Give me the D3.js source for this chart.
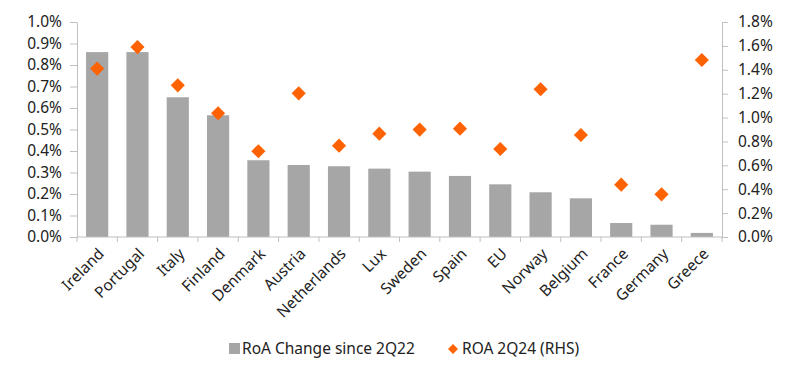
<!DOCTYPE html>
<html>
<head>
<meta charset="utf-8">
<script src="https://cdn.jsdelivr.net/npm/d3@7"></script>
<style>
  body { margin: 0; background: #fff; }
  svg text { font-family: "Noto Sans", sans-serif; fill: #222; }
</style>
</head>
<body>
<svg id="chart" width="800" height="369"></svg>
<script>
// countries, RoA change since 2Q22 (lhs, %) and ROA 2Q24 (rhs, %)
const countries = ["Ireland", "Portugal", "Italy", "Finland", "Denmark", "Austria", "Netherlands", "Lux",
  "Sweden", "Spain", "EU", "Norway", "Belgium", "France", "Germany", "Greece"];
const roaChange = [0.86, 0.86, 0.65, 0.566, 0.357, 0.335, 0.329, 0.318,
  0.304, 0.284, 0.245, 0.208, 0.18, 0.065, 0.057, 0.019];
const roa2q24 = [1.41, 1.59, 1.27, 1.036, 0.718, 1.203, 0.765, 0.865,
  0.899, 0.907, 0.737, 1.237, 0.854, 0.438, 0.357, 1.482];
const leftTicks = [0, 0.1, 0.2, 0.3, 0.4, 0.5, 0.6, 0.7, 0.8, 0.9, 1.0];
const rightTicks = [0, 0.2, 0.4, 0.6, 0.8, 1.0, 1.2, 1.4, 1.6, 1.8];

const svg = d3.select("#chart");
const plotLeft = 77, plotRight = 722, plotTop = 22, plotBottom = 237;
const axisColor = "#bfbfbf";

const x = d3.scaleBand().domain(countries).range([plotLeft, plotRight]).paddingInner(0.45).paddingOuter(0.225);
const yL = d3.scaleLinear().domain([0, 1.0]).range([plotBottom, plotTop]);
const yR = d3.scaleLinear().domain([0, 1.8]).range([plotBottom, plotTop]);

// bars
svg.append("g").selectAll("rect")
  .data(countries)
  .join("rect")
  .attr("x", d => x(d))
  .attr("y", (d, i) => yL(roaChange[i]))
  .attr("width", x.bandwidth())
  .attr("height", (d, i) => yL(0) - yL(roaChange[i]))
  .attr("fill", "#a6a6a6");

// left axis
const gL = svg.append("g")
  .attr("transform", `translate(${plotLeft},0)`)
  .call(d3.axisLeft(yL).tickValues(leftTicks).tickFormat(d => d.toFixed(1) + "%").tickSize(7).tickSizeOuter(0).tickPadding(8));
// right axis
const gR = svg.append("g")
  .attr("transform", `translate(${plotRight},0)`)
  .call(d3.axisRight(yR).tickValues(rightTicks).tickFormat(d => d.toFixed(1) + "%").tickSize(6).tickSizeOuter(0).tickPadding(10));

[gL, gR].forEach(g => {
  g.select(".domain").attr("stroke", axisColor);
  g.selectAll(".tick line").attr("stroke", axisColor);
  g.selectAll(".tick text").style("font-size", "15.5px").attr("fill", "#222");
});

// bottom axis: ticks at band boundaries
const gB = svg.append("g").attr("transform", `translate(0,${plotBottom})`);
gB.append("line").attr("x1", plotLeft).attr("x2", plotRight).attr("stroke", axisColor);
const bounds = d3.range(countries.length + 1).map(i => plotLeft + i * (plotRight - plotLeft) / countries.length);
gB.selectAll(".bt").data(bounds).join("line")
  .attr("x1", d => d).attr("x2", d => d).attr("y1", 0).attr("y2", 5)
  .attr("stroke", axisColor);

gB.selectAll(".lbl").data(countries).join("text")
  .attr("transform", d => `translate(${x(d) + x.bandwidth() / 2 + 4},${14}) rotate(-45)`)
  .attr("text-anchor", "end")
  .attr("dy", "0.35em")
  .style("font-size", "15.5px")
  .text(d => d);

// diamonds
const diamond = d3.symbol().type(d3.symbolSquare).size(100);
svg.append("g").selectAll("path")
  .data(countries)
  .join("path")
  .attr("d", diamond)
  .attr("transform", (d, i) => `translate(${x(d) + x.bandwidth() / 2},${yR(roa2q24[i])}) rotate(45)`)
  .attr("fill", "#ff6200");

// legend
const lg = svg.append("g").attr("transform", "translate(0,349)");
lg.append("rect").attr("x", 229).attr("y", -6).attr("width", 11).attr("height", 11).attr("fill", "#a6a6a6");
lg.append("text").attr("x", 242).attr("dy", "0.35em").style("font-size", "15.5px").text("RoA Change since 2Q22");
lg.append("path").attr("d", d3.symbol().type(d3.symbolSquare).size(50))
  .attr("transform", "translate(453,0) rotate(45)").attr("fill", "#ff6200");
lg.append("text").attr("x", 462).attr("dy", "0.35em").style("font-size", "15.5px").text("ROA 2Q24 (RHS)");
</script>
</body>
</html>
